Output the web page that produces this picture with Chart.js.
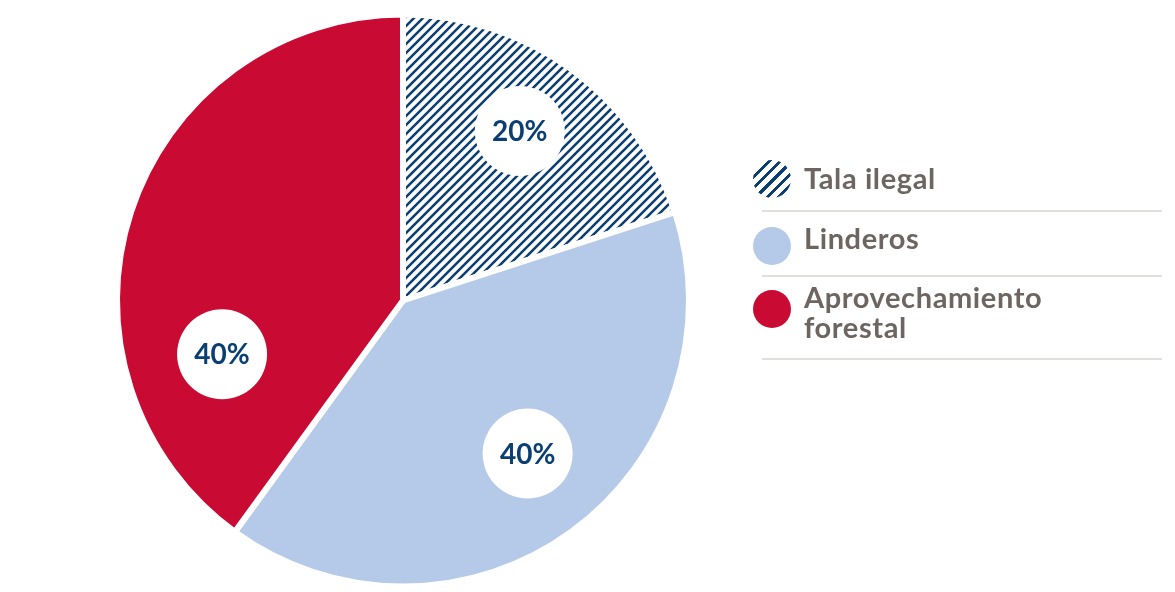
<!DOCTYPE html>
<html>
<head>
<meta charset="utf-8">
<script src="https://cdn.jsdelivr.net/npm/chart.js@4"></script>
<style>
  html, body { margin:0; padding:0; background:#fff; }
  #wrap { position:relative; width:1175px; height:592px; overflow:hidden; }
  #c { position:absolute; left:0; top:0; }
  .leg { position:absolute; left:762px; width:400px; font-family:"Lato", sans-serif; font-weight:700; font-size:29px; letter-spacing:0.6px; color:#6d6562; }
  .icon { position:absolute; left:-9px; width:38px; height:38px; border-radius:50%; }
  .txt { position:absolute; left:42px; line-height:30px; white-space:nowrap; }
  .rule { position:absolute; left:0; width:400px; height:2px; background:#e2e0dc; }
</style>
</head>
<body>
<div id="wrap">
  <canvas id="c" width="1175" height="592"></canvas>
  <div class="leg" id="legend"></div>
</div>
<script>
const categories = ["Tala ilegal", "Linderos", "Aprovechamiento forestal"];
const values = [20, 40, 40];
const valueLabels = ["20%", "40%", "40%"];

const RED = "#c90a33", LIGHT = "#b5cae9", NAVY = "#0b3f74";

function hatch(period, lw) {
  const t = document.createElement("canvas");
  t.width = period; t.height = period;
  const g = t.getContext("2d");
  g.fillStyle = "#fff"; g.fillRect(0,0,period,period);
  g.strokeStyle = NAVY; g.lineWidth = lw;
  g.beginPath();
  for (let k = 0; k <= 2; k++) {
    const s = k * period;
    g.moveTo(s + period, -period); g.lineTo(s - 2*period, 2*period);
  }
  g.stroke();
  return g.createPattern(t, "repeat");
}
const ctx = document.getElementById("c").getContext("2d");
const hatchPattern = hatch(9, 2.5);

// label placement: fraction along arc angle, fraction of radius
const labelPlace = [[0.48, 0.72], [0.478, 0.69], [0.26, 0.66]];

const labelPlugin = {
  id: "circleLabels",
  afterDatasetsDraw(chart) {
    const meta = chart.getDatasetMeta(0);
    const c = chart.ctx;
    meta.data.forEach((arc, i) => {
      const p = arc.getProps(["x","y","startAngle","endAngle","outerRadius"], true);
      const [fa, fr] = labelPlace[i];
      const a = p.startAngle + (p.endAngle - p.startAngle) * fa;
      const r = p.outerRadius * fr;
      const x = p.x + Math.cos(a) * r, y = p.y + Math.sin(a) * r;
      c.save();
      c.beginPath(); c.arc(x, y, 45, 0, Math.PI*2); c.fillStyle = "#fff"; c.fill();
      c.fillStyle = NAVY; c.font = "700 28px Lato"; c.textAlign = "center"; c.textBaseline = "middle";
      c.fillText(valueLabels[i], x, y + 1);
      c.restore();
    });
  }
};

new Chart(ctx, {
  type: "pie",
  data: {
    labels: categories,
    datasets: [{
      data: values,
      backgroundColor: [hatchPattern, LIGHT, RED],
      borderColor: "#fff",
      borderWidth: 6,
      hoverOffset: 0
    }]
  },
  options: {
    responsive: false,
    animation: false,
    radius: 286,
    layout: { padding: { left: 0, right: 369, top: 9, bottom: 0 } },
    plugins: { legend: { display: false }, tooltip: { enabled: false } },
    events: []
  },
  plugins: [labelPlugin]
});

// HTML legend
const legend = document.getElementById("legend");
const iconY = [160, 227, 290];
const textY = [163, 223, 282];
const ruleY = [210, 275, 358];
const textLines = [["Tala ilegal"], ["Linderos"], ["Aprovechamiento", "forestal"]];
categories.forEach((cat, i) => {
  const icon = document.createElement("div");
  icon.className = "icon";
  icon.style.top = iconY[i] + "px";
  if (i === 0) icon.style.background = "repeating-linear-gradient(-45deg, " + NAVY + " 0 3px, #fff 3px 8px)";
  else icon.style.background = i === 1 ? LIGHT : RED;
  legend.appendChild(icon);
  const t = document.createElement("div");
  t.className = "txt";
  t.style.top = textY[i] + "px";
  t.innerHTML = textLines[i].join("<br>");
  legend.appendChild(t);
  const r = document.createElement("div");
  r.className = "rule";
  r.style.top = ruleY[i] + "px";
  legend.appendChild(r);
});
</script>
</body>
</html>
